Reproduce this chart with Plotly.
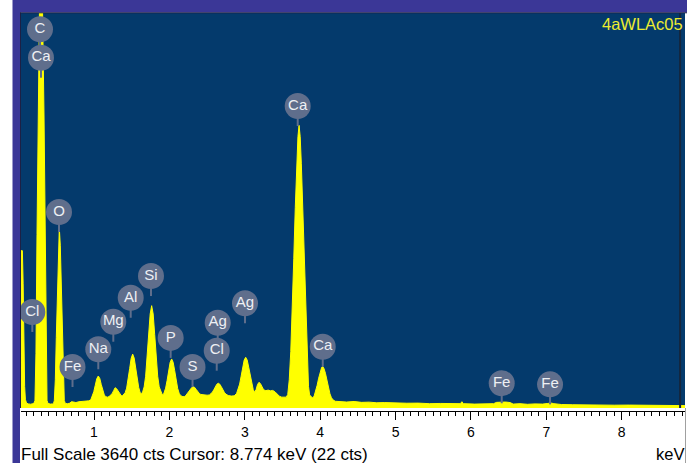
import plotly.graph_objects as go

# ---- spectrum (energy in keV, counts) ----
energy_kev = [
    0.032, 0.050, 0.060, 0.070, 0.080, 0.090, 0.105, 0.130, 0.160, 0.190, 0.205,
    0.217, 0.230, 0.244, 0.257, 0.277, 0.297, 0.317, 0.337, 0.350, 0.363, 0.377,
    0.390, 0.420, 0.450, 0.465,
    0.474, 0.487, 0.500, 0.514, 0.527, 0.540, 0.553, 0.566, 0.580, 0.593, 0.606,
    0.620, 0.650, 0.680, 0.700, 0.730, 0.760, 0.800, 0.850, 0.900, 0.930,
    0.957, 0.977, 0.997, 1.017, 1.037, 1.057, 1.077, 1.097, 1.117, 1.137, 1.157, 1.180,
    1.200, 1.220, 1.240, 1.260, 1.280, 1.300, 1.320, 1.340, 1.360, 1.375,
    1.393, 1.413, 1.433, 1.453, 1.473, 1.493, 1.513, 1.533, 1.553, 1.573, 1.593, 1.613, 1.630,
    1.645, 1.665, 1.685, 1.705, 1.725, 1.745, 1.765, 1.785, 1.805, 1.825, 1.845, 1.865, 1.885, 1.905, 1.920,
    1.930, 1.950, 1.970, 1.990, 2.010, 2.030, 2.050, 2.070, 2.090, 2.110, 2.130, 2.150, 2.180, 2.200, 2.217,
    2.237, 2.257, 2.277, 2.297, 2.317, 2.337, 2.357, 2.377, 2.397, 2.417, 2.450, 2.500, 2.530,
    2.549, 2.569, 2.589, 2.609, 2.629, 2.649, 2.669, 2.689, 2.709, 2.729, 2.749, 2.780, 2.820, 2.860,
    2.892, 2.912, 2.932, 2.952, 2.972, 2.992, 3.012, 3.032, 3.052, 3.072, 3.092, 3.112, 3.130,
    3.150, 3.170, 3.190, 3.210, 3.230, 3.250, 3.280, 3.310, 3.340, 3.370, 3.400, 3.430, 3.460, 3.490, 3.520,
    3.550, 3.570, 3.590, 3.610, 3.630, 3.650, 3.670, 3.690, 3.705, 3.720, 3.735, 3.750, 3.770, 3.790,
    3.810, 3.830, 3.845, 3.860, 3.880, 3.900,
    3.920, 3.940, 3.960, 3.980, 4.000, 4.020, 4.035, 4.050, 4.070, 4.090, 4.110, 4.130, 4.150, 4.170, 4.200,
    4.250, 4.350, 4.450, 4.550, 4.650, 4.750, 4.850, 5.000, 5.150, 5.300, 5.450, 5.600, 5.750,
    5.860, 5.880, 5.900, 6.050, 6.200, 6.300, 6.340, 6.400, 6.460, 6.520, 6.560, 6.650, 6.750,
    6.850, 6.950, 7.020, 7.060, 7.100, 7.200, 7.350, 7.500, 7.700, 7.900, 8.100, 8.300, 8.500, 8.700, 8.840,
]
counts = [
    1450, 1450, 1150, 550, 200, 80, 45, 38, 35, 40, 45,
    70, 500, 1600, 2700, 3700, 4200, 3700, 2700, 1600, 500, 70,
    42, 36, 38, 45,
    70, 260, 650, 1100, 1500, 1660, 1500, 1100, 650, 250, 70,
    42, 40, 45, 58, 55, 50, 58, 60, 62, 66,
    75, 109, 150, 210, 270, 295, 272, 215, 158, 120, 104, 100,
    106, 116, 132, 160, 187, 178, 155, 132, 116, 110,
    123, 141, 183, 259, 363, 458, 497, 460, 368, 265, 190, 140, 132,
    148, 194, 293, 461, 676, 866, 943, 866, 676, 461, 293, 194, 148, 125, 122,
    138, 183, 255, 345, 421, 452, 421, 345, 255, 180, 135, 114, 104, 106, 115,
    134, 150, 170, 189, 196, 189, 170, 150, 134, 125, 120, 118, 120,
    128, 144, 168, 196, 219, 228, 219, 196, 168, 144, 128, 115, 110, 112,
    135, 171, 221, 294, 376, 442, 467, 442, 376, 294, 225, 170, 145,
    170, 218, 237, 222, 190, 168, 160, 165, 158, 162, 150, 130, 108, 100, 98,
    100, 125, 260, 520, 900, 1380, 1850, 2250, 2500, 2605, 2500, 2250, 1850, 1450,
    1000, 520, 200, 120, 100, 92,
    110, 150, 210, 275, 340, 375, 381, 365, 320, 255, 185, 130, 95, 75, 62,
    58, 55, 60, 52, 54, 48, 50, 46, 44, 45, 40, 42, 38,
    40, 58, 40, 36, 38, 40, 52, 56, 55, 50, 36, 40, 34,
    38, 36, 42, 46, 40, 32, 30, 28, 28, 26, 27, 25, 26, 24, 22,
]

# ---- element markers ----
label_names = ["C", "Ca", "O", "Cl", "Fe", "Na", "Mg", "Al", "Si", "P",
               "S", "Cl", "Ag", "Ag", "Ca", "Ca", "Fe", "Fe"]
label_kev = [0.284, 0.297, 0.536, 0.182, 0.715, 1.057, 1.256, 1.487, 1.756, 2.017,
             2.307, 2.628, 2.641, 3.003, 3.702, 4.034, 6.408, 7.049]
label_counts = [3490, 3228, 1806, 885, 378, 541, 795, 1016, 1216, 646,
                378, 528, 786, 965, 2783, 565, 228, 218]

tick_kev = [1, 2, 3, 4, 5, 6, 7, 8]
tick_text = ["1", "2", "3", "4", "5", "6", "7", "8"]

FULL_SCALE = 3640
CURSOR_KEV = 8.774
CURSOR_CTS = 22
SAMPLE_ID = "4aWLAc05"

# ---- geometry ----
W, H = 687, 463
ML, MR, MT, MB = 21, 2, 13, 52
PLOT_H = H - MT - MB
SPEC_H = PLOT_H - 3                      # spectrum baseline sits 3 px above the axis line
cts_per_px = FULL_SCALE / SPEC_H
y_min = -3 * cts_per_px
x_range = [0.0318, 8.839]

NAVY = "#043a6c"
PURPLE = "#3b3797"
EDGE = "#1d2045"
BUBBLE = "#5f6e8c"
YELLOW = "#ffff00"
FONT = "Liberation Sans, Arial, sans-serif"

fig = go.Figure()

# spectrum
fig.add_trace(go.Scatter(
    x=energy_kev, y=counts, mode="lines",
    line=dict(color=YELLOW, width=1),
    fill="tozeroy", fillcolor=YELLOW,
    hoverinfo="skip", showlegend=False,
))

# stems under the element bubbles
stem_x, stem_y = [], []
for e, c in zip(label_kev, label_counts):
    stem_x += [e, e, None]
    stem_y += [c - 11 * cts_per_px, c - 20 * cts_per_px, None]
fig.add_trace(go.Scatter(
    x=stem_x, y=stem_y, mode="lines",
    line=dict(color=BUBBLE, width=2),
    hoverinfo="skip", showlegend=False,
))

# element bubbles
fig.add_trace(go.Scatter(
    x=label_kev, y=label_counts, mode="markers+text",
    marker=dict(size=26, color=BUBBLE, line=dict(width=0)),
    text=label_names, textposition="middle center",
    textfont=dict(family=FONT, size=15, color="#eef0f4"),
    hoverinfo="skip", showlegend=False,
))

px_x = lambda p: (p - ML) / (W - ML - MR)
px_y = lambda p: (H - MB - p) / PLOT_H

shapes = [
    # spectrum display area
    dict(type="rect", xref="paper", yref="y", x0=0, x1=1, y0=0, y1=FULL_SCALE,
         fillcolor=NAVY, line=dict(width=0), layer="below"),
    # window frame
    dict(type="rect", xref="paper", yref="paper", x0=px_x(13), x1=px_x(690),
         y0=px_y(12.5), y1=px_y(-2), fillcolor=PURPLE, line=dict(width=0), layer="above"),
    dict(type="rect", xref="paper", yref="paper", x0=px_x(12.5), x1=px_x(20),
         y0=px_y(H + 2), y1=px_y(-2), fillcolor=PURPLE, line=dict(width=0), layer="above"),
    dict(type="line", xref="paper", yref="paper", x0=px_x(20.5), x1=px_x(20.5),
         y0=px_y(408), y1=px_y(12.5), line=dict(color=EDGE, width=1)),
    dict(type="line", xref="paper", yref="paper", x0=px_x(20), x1=px_x(690),
         y0=px_y(12.8), y1=px_y(12.8), line=dict(color=EDGE, width=1)),
    dict(type="line", xref="paper", yref="paper", x0=px_x(685.5), x1=px_x(685.5),
         y0=px_y(H), y1=px_y(408), line=dict(color="#a0a0a0", width=1)),
    # cursor
    dict(type="line", xref="x", yref="y", x0=CURSOR_KEV, x1=CURSOR_KEV,
         y0=0, y1=FULL_SCALE, line=dict(color="#16263c", width=2)),
]

annotations = [
    dict(text=SAMPLE_ID, xref="paper", yref="paper", x=px_x(685), y=px_y(24),
         xanchor="right", yanchor="middle", showarrow=False,
         font=dict(family=FONT, size=16.5, color="#ecec30")),
    dict(text=f"Full Scale {FULL_SCALE} cts Cursor: {CURSOR_KEV:.3f} keV ({CURSOR_CTS} cts)",
         xref="paper", yref="paper", x=px_x(19), y=px_y(454),
         xanchor="left", yanchor="middle", showarrow=False,
         font=dict(family=FONT, size=17, color="black")),
    dict(text="keV", xref="paper", yref="paper", x=px_x(686), y=px_y(454),
         xanchor="right", yanchor="middle", showarrow=False,
         font=dict(family=FONT, size=16.5, color="black")),
]

fig.update_layout(
    width=W, height=H,
    margin=dict(l=ML, r=MR, t=MT, b=MB, pad=0),
    paper_bgcolor="white", plot_bgcolor="white",
    shapes=shapes, annotations=annotations,
    xaxis=dict(
        range=x_range, showgrid=False, zeroline=False,
        showline=True, linecolor="black", linewidth=1,
        tickmode="array", tickvals=tick_kev, ticktext=tick_text,
        ticks="outside", ticklen=8, tickcolor="black", tickwidth=1,
        tickfont=dict(family=FONT, size=14, color="black"),
        minor=dict(dtick=0.1, tick0=0, ticks="outside", ticklen=4,
                   tickcolor="black", tickwidth=1, showgrid=False),
        fixedrange=True,
    ),
    yaxis=dict(
        range=[y_min, FULL_SCALE], showgrid=False, zeroline=False,
        showline=False, showticklabels=False, ticks="", fixedrange=True,
    ),
)

fig.write_html("out.html")
